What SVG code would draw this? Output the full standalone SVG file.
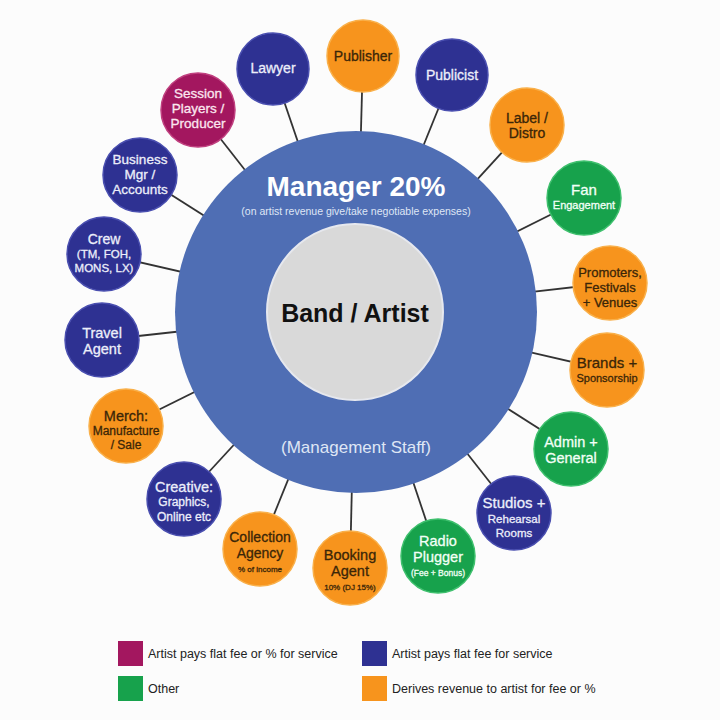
<svg xmlns="http://www.w3.org/2000/svg" width="720" height="720" viewBox="0 0 720 720">
<style>
text{font-family:"Liberation Sans",Arial,sans-serif;text-anchor:middle}
.con line{stroke:#333;stroke-width:1.8}
.navy circle{fill:#2e3192;stroke:#4a4fb0;stroke-width:1.5}
.navy text{fill:#eceefa;stroke:#eceefa;stroke-width:0.3}
.orange circle{fill:#f7941d;stroke:#f9b04a;stroke-width:1.5}
.orange text{fill:#3b2608;stroke:#3b2608;stroke-width:0.3}
.green circle{fill:#17a24c;stroke:#3fc06e;stroke-width:1.5}
.green text{fill:#f2fff6;stroke:#f2fff6;stroke-width:0.3}
.mag circle{fill:#a3175f;stroke:#c0407f;stroke-width:1.5}
.mag text{fill:#fbe6ef;stroke:#fbe6ef;stroke-width:0.3}
.lg text{text-anchor:start;font-size:12.5px;fill:#222}
</style>
<rect width="720" height="720" fill="#fcfcfc"/>
<g class="con">
<line x1="363" y1="56" x2="356" y2="312"/>
<line x1="273" y1="69" x2="356" y2="312"/>
<line x1="452" y1="75" x2="356" y2="312"/>
<line x1="198" y1="110" x2="356" y2="312"/>
<line x1="527" y1="125" x2="356" y2="312"/>
<line x1="140" y1="175" x2="356" y2="312"/>
<line x1="104" y1="254" x2="356" y2="312"/>
<line x1="102" y1="340" x2="356" y2="312"/>
<line x1="126" y1="426" x2="356" y2="312"/>
<line x1="584" y1="198" x2="356" y2="312"/>
<line x1="610" y1="283" x2="356" y2="312"/>
<line x1="607" y1="370" x2="356" y2="312"/>
<line x1="571" y1="449" x2="356" y2="312"/>
<line x1="514" y1="513" x2="356" y2="312"/>
<line x1="438" y1="556" x2="356" y2="312"/>
<line x1="350" y1="568" x2="356" y2="312"/>
<line x1="260" y1="549" x2="356" y2="312"/>
<line x1="184" y1="499" x2="356" y2="312"/>
</g>
<g id="manager">
<circle cx="356" cy="312" r="181" fill="#4f6eb4"/>
<text x="356" y="196" font-size="28" font-weight="bold" fill="#ffffff">Manager 20%</text>
<text x="356" y="215" font-size="10.5" fill="#dfe6f5">(on artist revenue give/take negotiable expenses)</text>
<text x="356" y="453" font-size="17" fill="#dfe6f5">(Management Staff)</text>
</g>
<g id="artist">
<circle cx="355" cy="312" r="88" fill="#d9d9d9" stroke="#e6e8ee" stroke-width="2"/>
<text x="355" y="322" font-size="25" font-weight="bold" fill="#111">Band / Artist</text>
</g>
<g id="publisher" class="orange"><circle cx="363" cy="56" r="36"/><text x="363" y="61" font-size="14">Publisher</text></g>
<g id="lawyer" class="navy"><circle cx="273" cy="69" r="36"/><text x="273" y="73" font-size="14">Lawyer</text></g>
<g id="publicist" class="navy"><circle cx="452" cy="75" r="36"/><text x="452" y="80" font-size="14">Publicist</text></g>
<g id="session" class="mag"><circle cx="198" cy="110" r="37"/><text font-size="13.5"><tspan x="198" y="98">Session</tspan><tspan x="198" y="113">Players /</tspan><tspan x="198" y="128">Producer</tspan></text></g>
<g id="label" class="orange"><circle cx="527" cy="125" r="37"/><text font-size="14"><tspan x="527" y="123">Label /</tspan><tspan x="527" y="138">Distro</tspan></text></g>
<g id="business" class="navy"><circle cx="140" cy="175" r="37"/><text font-size="13.5"><tspan x="140" y="164">Business</tspan><tspan x="140" y="179">Mgr /</tspan><tspan x="140" y="194">Accounts</tspan></text></g>
<g id="crew" class="navy"><circle cx="104" cy="254" r="37"/><text><tspan x="104" y="244" font-size="14">Crew</tspan><tspan x="104" y="258" font-size="11.5">(TM, FOH,</tspan><tspan x="104" y="272" font-size="11.5">MONS, LX)</tspan></text></g>
<g id="travel" class="navy"><circle cx="102" cy="340" r="37"/><text font-size="14.5"><tspan x="102" y="338">Travel</tspan><tspan x="102" y="354">Agent</tspan></text></g>
<g id="merch" class="orange"><circle cx="126" cy="426" r="37"/><text><tspan x="126" y="421" font-size="14.5">Merch:</tspan><tspan x="126" y="435" font-size="12">Manufacture</tspan><tspan x="126" y="449" font-size="12">/ Sale</tspan></text></g>
<g id="fan" class="green"><circle cx="584" cy="198" r="37"/><text><tspan x="584" y="195" font-size="15">Fan</tspan><tspan x="584" y="209" font-size="11">Engagement</tspan></text></g>
<g id="promoters" class="orange"><circle cx="610" cy="283" r="37"/><text font-size="13"><tspan x="610" y="277">Promoters,</tspan><tspan x="610" y="292">Festivals</tspan><tspan x="610" y="307">+ Venues</tspan></text></g>
<g id="brands" class="orange"><circle cx="607" cy="370" r="37"/><text><tspan x="607" y="368" font-size="15">Brands +</tspan><tspan x="607" y="382" font-size="11">Sponsorship</tspan></text></g>
<g id="admin" class="green"><circle cx="571" cy="449" r="37"/><text font-size="14.5"><tspan x="571" y="447">Admin +</tspan><tspan x="571" y="463">General</tspan></text></g>
<g id="studios" class="navy"><circle cx="514" cy="513" r="37"/><text><tspan x="514" y="508" font-size="15">Studios +</tspan><tspan x="514" y="523" font-size="11.5">Rehearsal</tspan><tspan x="514" y="537" font-size="11.5">Rooms</tspan></text></g>
<g id="radio" class="green"><circle cx="438" cy="556" r="37"/><text><tspan x="438" y="546" font-size="14.5">Radio</tspan><tspan x="438" y="562" font-size="14.5">Plugger</tspan><tspan x="438" y="576" font-size="8.5">(Fee + Bonus)</tspan></text></g>
<g id="booking" class="orange"><circle cx="350" cy="568" r="37"/><text><tspan x="350" y="560" font-size="14.5">Booking</tspan><tspan x="350" y="576" font-size="14.5">Agent</tspan><tspan x="350" y="590" font-size="8">10% (DJ 15%)</tspan></text></g>
<g id="collection" class="orange"><circle cx="260" cy="549" r="37"/><text><tspan x="260" y="542" font-size="14">Collection</tspan><tspan x="260" y="558" font-size="14">Agency</tspan><tspan x="260" y="572" font-size="8">% of income</tspan></text></g>
<g id="creative" class="navy"><circle cx="184" cy="499" r="37"/><text><tspan x="184" y="492" font-size="14.5">Creative:</tspan><tspan x="184" y="506" font-size="12">Graphics,</tspan><tspan x="184" y="521" font-size="12">Online etc</tspan></text></g>
<g id="legend" class="lg">
<rect x="118" y="641" width="25" height="25" fill="#a3175f"/>
<text x="148" y="658">Artist pays flat fee or % for service</text>
<rect x="362" y="641" width="25" height="25" fill="#2e3192"/>
<text x="392" y="658">Artist pays flat fee for service</text>
<rect x="118" y="676" width="25" height="25" fill="#17a24c"/>
<text x="148" y="693">Other</text>
<rect x="362" y="676" width="25" height="25" fill="#f7941d"/>
<text x="392" y="693">Derives revenue to artist for fee or %</text>
</g>
</svg>
